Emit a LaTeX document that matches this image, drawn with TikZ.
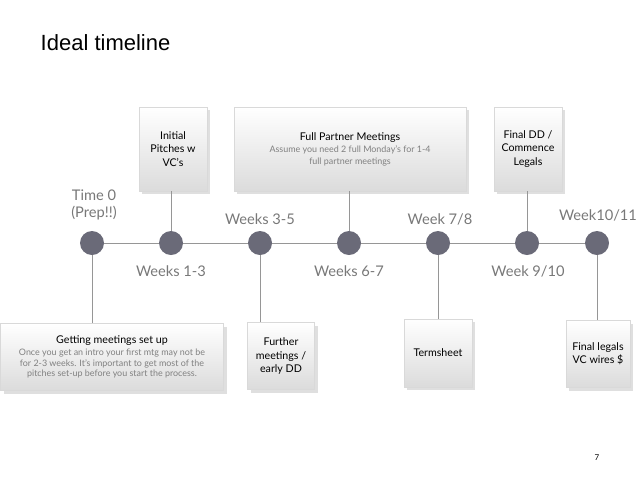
\documentclass[tikz,border=0pt]{standalone}
\usepackage{fontspec}
\setmainfont{Lato}
\newfontfamily\titlefont{Liberation Sans}
\usetikzlibrary{shadows}
\definecolor{dotgrey}{RGB}{106,106,120}
\definecolor{labelgrey}{RGB}{120,120,120}
\definecolor{linegrey}{RGB}{150,150,150}
\tikzset{
  stage/.style={circle,fill=dotgrey,minimum size=18pt,inner sep=0pt},
  wlabel/.style={text=labelgrey,font=\fontsize{11}{12.5}\selectfont,align=center},
  evbox/.style={draw=black!15,top color=white,bottom color=black!14,drop shadow={opacity=0.25},
    font=\fontsize{8}{10}\selectfont,align=center,inner sep=2pt}
}
\newcommand{\notetxt}[1]{{\color{black!50}\fontsize{6.7}{8}\selectfont #1}}
\begin{document}
\begin{tikzpicture}[x=0.75pt,y=0.75pt,yscale=-1,xscale=1]
\useasboundingbox (0,0) rectangle (638,479);
\draw (36,43) node [anchor=west] {\titlefont\fontsize{16.5}{19}\selectfont Ideal timeline};
\draw (597,458) node {\fontsize{6}{7}\selectfont 7};
% boxes
\node (pitch) [evbox,minimum width=51pt,minimum height=63pt] at (173,149) {Initial\\Pitches w\\VC's};
\node (partner) [evbox,minimum width=174pt,minimum height=63pt] at (350,149) {Full Partner Meetings\\[-1pt]\notetxt{Assume you need 2 full Monday's for 1-4}\\[-1pt]\notetxt{full partner meetings}};
\node (finaldd) [evbox,minimum width=51pt,minimum height=63pt] at (528,149) {Final DD /\\Commence\\Legals};
\node (setup) [evbox,minimum width=167pt,minimum height=50pt] at (112,357) {Getting meetings set up\\[-1pt]\notetxt{Once you get an intro your first mtg may not be}\\[-2pt]\notetxt{for 2-3 weeks. It's important to get most of the}\\[-2pt]\notetxt{pitches set-up before you start the process.}};
\node (further) [evbox,minimum width=50pt,minimum height=50pt] at (281,356) {Further\\meetings /\\early DD};
\node (term) [evbox,minimum width=51pt,minimum height=51pt] at (438,353) {Termsheet};
\node (legals) [evbox,minimum width=48pt,minimum height=50pt] at (598,354) {Final legals\\VC wires \$};
% stages
\node (s0) [stage] at (92,243) {};
\node (s1) [stage] at (171,243) {};
\node (s2) [stage] at (260,243) {};
\node (s3) [stage] at (349,243) {};
\node (s4) [stage] at (438,243) {};
\node (s5) [stage] at (527,243) {};
\node (s6) [stage] at (597,243) {};
\draw [linegrey] (s0) -- (s1) -- (s2) -- (s3) -- (s4) -- (s5) -- (s6);
\draw [linegrey] (s1) -- (pitch.south -| s1);
\draw [linegrey] (s3) -- (partner.south -| s3);
\draw [linegrey] (s5) -- (finaldd.south -| s5);
\draw [linegrey] (s0) -- (setup.north -| s0);
\draw [linegrey] (s2) -- (further.north -| s2);
\draw [linegrey] (s4) -- (term.north -| s4);
\draw [linegrey] (s6) -- (legals.north -| s6);
% labels
\node (l0) [wlabel] at (94,205) {Time 0\\(Prep!!)};
\node (l2) [wlabel] at (260,219) {Weeks 3-5};
\node (l4) [wlabel] at (440,219) {Week 7/8};
\node (l6) [wlabel] at (598,215) {Week10/11};
\node (l1) [wlabel] at (171,271) {Weeks 1-3};
\node (l3) [wlabel] at (349,271) {Weeks 6-7};
\node (l5) [wlabel] at (528,271) {Week 9/10};
\end{tikzpicture}
\end{document}
